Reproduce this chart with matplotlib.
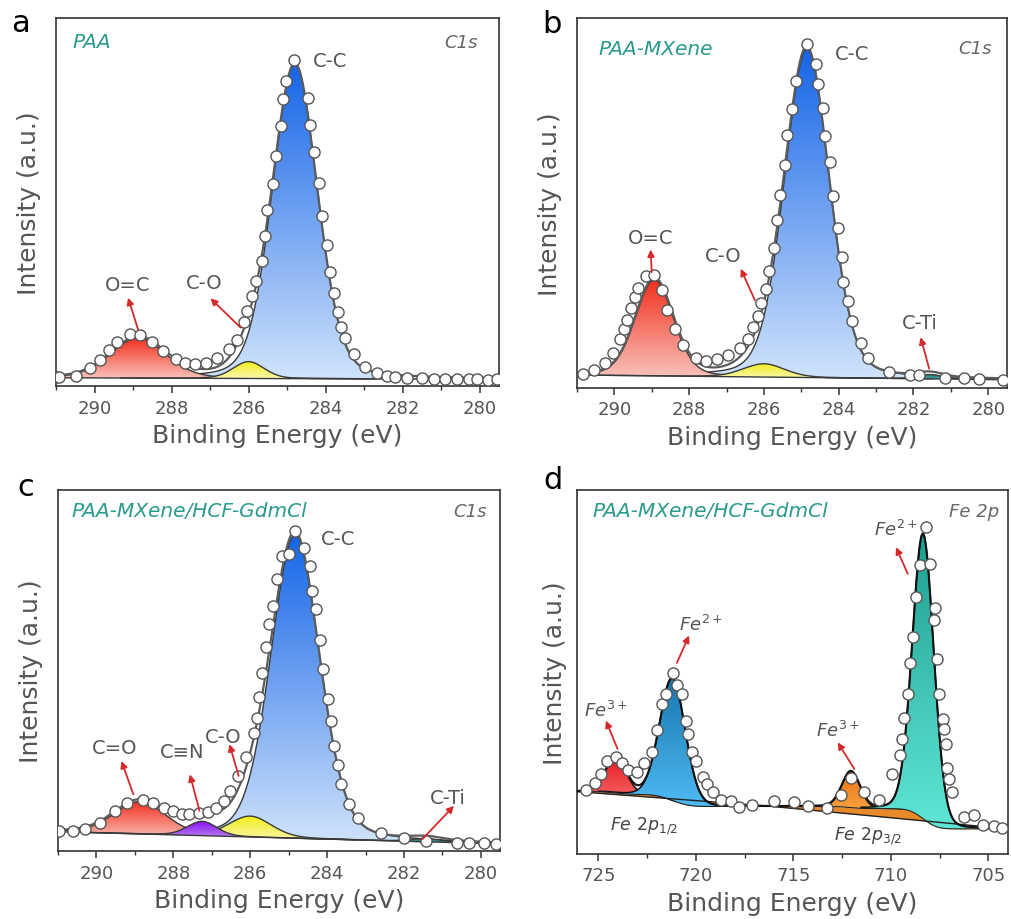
import numpy as np
import matplotlib
matplotlib.use('Agg')
import matplotlib.pyplot as plt
from matplotlib.colors import LinearSegmentedColormap
from matplotlib.patches import Polygon
from matplotlib.ticker import MultipleLocator
from math import erf

plt.rcParams['font.family'] = ['DejaVu Sans']
plt.rcParams['mathtext.fontset'] = 'dejavusans'

GRAY = '#555555'
TEAL = '#2a9a8c'
ARROW = '#d42a2a'

# ---------------- data ----------------
# panel a : PAA, C1s
a_be = [291.0, 290.91, 290.49, 290.11, 289.87, 289.63, 289.42, 289.09, 288.81, 288.50,
        288.22, 287.89, 287.66, 287.40, 287.11, 286.81, 286.50, 286.31, 286.11, 286.03,
        285.92, 285.81, 285.66, 285.57, 285.53, 285.37, 285.29, 285.16, 285.11, 285.03,
        284.82, 284.47, 284.40, 284.30, 284.18, 284.10, 283.97, 283.88, 283.79, 283.69,
        283.60, 283.49, 283.26, 282.97, 282.68, 282.40, 282.19, 281.90, 281.49, 281.19,
        280.89, 280.58, 280.28, 280.08, 279.78, 279.54]
a_int = [0.002, 0.002, 0.007, 0.031, 0.055, 0.087, 0.112, 0.137, 0.134, 0.112,
         0.084, 0.060, 0.047, 0.042, 0.047, 0.063, 0.091, 0.118, 0.175, 0.210,
         0.257, 0.305, 0.368, 0.445, 0.529, 0.610, 0.697, 0.792, 0.876, 0.935,
         1.000, 0.880, 0.795, 0.709, 0.612, 0.510, 0.417, 0.333, 0.266, 0.207,
         0.161, 0.126, 0.076, 0.034, 0.014, 0.007, 0.002, 0.0, -0.001, -0.003,
         -0.005, -0.005, -0.005, -0.005, -0.007, -0.005]
a_names = ['O=C', 'C-O', 'C-C']
a_pos = [288.87, 286.0, 284.8]
a_height = [0.126, 0.053, 0.99]
a_fwhm = [1.7, 0.95, 1.38]
a_bg = [0.0, -0.005]          # at 291 eV, at 279.5 eV

# panel b : PAA-MXene, C1s
b_be = [290.85, 290.54, 290.25, 290.04, 289.85, 289.74, 289.65, 289.55, 289.45, 289.36,
        289.15, 288.93, 288.73, 288.58, 288.38, 288.16, 287.82, 287.55, 287.25, 286.95,
        286.64, 286.42, 286.28, 286.15, 286.09, 285.94, 285.86, 285.73, 285.66, 285.57,
        285.44, 285.39, 285.26, 285.14, 284.86, 284.61, 284.55, 284.43, 284.37, 284.22,
        284.14, 284.01, 283.92, 283.88, 283.74, 283.65, 283.41, 283.21, 282.65, 282.08,
        281.84, 281.16, 280.65, 280.24, 279.60]
b_int = [0.007, 0.019, 0.040, 0.069, 0.110, 0.142, 0.170, 0.204, 0.237, 0.264,
         0.300, 0.305, 0.258, 0.198, 0.141, 0.094, 0.054, 0.045, 0.052, 0.064,
         0.085, 0.112, 0.147, 0.182, 0.220, 0.262, 0.317, 0.385, 0.471, 0.545,
         0.636, 0.726, 0.804, 0.889, 1.001, 0.941, 0.878, 0.806, 0.723, 0.643,
         0.543, 0.446, 0.358, 0.283, 0.225, 0.167, 0.099, 0.054, 0.012, 0.002,
         0.002, -0.006, -0.006, -0.008, -0.011]
b_names = ['O=C', 'C-O', 'C-C', 'C-Ti']
b_pos = [288.93, 286.0, 284.85, 281.55]
b_height = [0.29, 0.04, 0.99, 0.013]
b_fwhm = [1.2, 1.3, 1.42, 0.8]
b_bg = [0.003, -0.011]

# panel c : PAA-MXene/HCF-GdmCl, C1s
c_be = [290.97, 290.61, 290.30, 289.91, 289.52, 289.20, 288.80, 288.52, 288.24, 288.00,
        287.78, 287.58, 287.32, 287.09, 286.89, 286.68, 286.52, 286.33, 286.10, 285.91,
        285.83, 285.76, 285.70, 285.58, 285.50, 285.41, 285.30, 285.17, 285.00, 284.83,
        284.61, 284.45, 284.39, 284.28, 284.19, 284.10, 283.98, 283.91, 283.83, 283.72,
        283.63, 283.43, 283.20, 282.61, 282.00, 281.43, 280.61, 280.30, 279.91, 279.61]
c_int = [0.037, 0.037, 0.043, 0.062, 0.102, 0.128, 0.137, 0.128, 0.112, 0.102,
         0.091, 0.091, 0.096, 0.098, 0.112, 0.134, 0.166, 0.214, 0.276, 0.353,
         0.401, 0.468, 0.545, 0.629, 0.701, 0.760, 0.845, 0.920, 0.925, 1.000,
         0.947, 0.888, 0.807, 0.749, 0.652, 0.556, 0.462, 0.390, 0.310, 0.248,
         0.187, 0.123, 0.080, 0.030, 0.014, 0.005, 0.0, 0.0, -0.002, -0.005]
c_names = ['C=O', 'C≡N', 'C-O', 'C-C', 'C-Ti']
c_pos = [288.87, 287.25, 286.0, 284.83, 281.4]
c_height = [0.104, 0.046, 0.067, 0.975, 0.01]
c_fwhm = [1.6, 0.9, 1.3, 1.5, 1.0]
c_bg = [0.035, -0.004]

# panel d : PAA-MXene/HCF-GdmCl, Fe 2p
d_be = [725.65, 725.19, 724.88, 724.57, 724.11, 723.77, 723.48, 723.00, 722.66, 722.23,
        722.01, 721.72, 721.54, 721.20, 720.95, 720.69, 720.52, 720.43, 720.18, 720.00,
        719.66, 719.44, 719.15, 718.72, 718.21, 717.78, 717.15, 715.98, 714.99, 714.24,
        713.28, 712.56, 712.05, 711.36, 710.59, 709.96, 709.52, 709.45, 709.31, 709.14,
        709.00, 708.88, 708.71, 708.49, 708.20, 707.98, 707.74, 707.77, 707.63, 707.52,
        707.34, 707.26, 707.17, 707.12, 707.00, 706.88, 706.23, 705.72, 705.29, 704.73,
        704.32]
d_int = [0.132, 0.154, 0.184, 0.226, 0.240, 0.221, 0.196, 0.192, 0.221, 0.257,
         0.333, 0.419, 0.453, 0.522, 0.483, 0.453, 0.363, 0.318, 0.257, 0.229,
         0.173, 0.151, 0.123, 0.098, 0.095, 0.073, 0.080, 0.092, 0.089, 0.076,
         0.069, 0.112, 0.170, 0.123, 0.098, 0.184, 0.249, 0.302, 0.372, 0.453,
         0.557, 0.643, 0.777, 0.883, 1.011, 0.888, 0.739, 0.700, 0.570, 0.453,
         0.369, 0.335, 0.285, 0.204, 0.168, 0.123, 0.039, 0.045, 0.013, 0.011,
         0.002]
d_names = ['Fe3+ 2p1/2', 'Fe2+ 2p1/2', 'Fe3+ 2p3/2', 'Fe2+ 2p3/2']
d_pos = [724.1, 721.2, 712.05, 708.35]
d_height = [0.12, 0.41, 0.12, 0.955]
d_fwhm = [1.25, 1.55, 1.1, 1.3]
d_regions = [(726.1, 716.0), (716.0, 704.0)]   # Shirley regions (high BE, low BE)
d_region_bg = [(0.125, 0.075), (0.075, 0.0)]
d_region_peaks = [[0, 1], [2, 3]]

# ---------------- styles ----------------
C1S_TOP = {'C-C': '#1565e8', 'O=C': '#f2301e', 'C=O': '#f2301e', 'C-O': '#f2ee1a',
           'C≡N': '#8a0ff0', 'C-Ti': '#1f7d7d'}
C1S_BOT = {'C-C': '#d0e3fb', 'O=C': '#f9c3bb', 'C=O': '#f9c3bb', 'C-O': '#faf7b4',
           'C≡N': '#b98af0', 'C-Ti': '#4fa8a8'}
D_TOP = ['#e41a22', '#1777b0', '#ee7310', '#1f9e8e']
D_BOT = ['#f86a6a', '#4fbaf2', '#f8a040', '#60e6d6']
BAND = '#e88a2a'

FS_AX = 18
FS_TICK = 13
FS_LAB = 14
FS_TITLE = 14.5


def pv(x, c, h, w, eta=0.2):
    u = (x - c) / w
    return h * ((1 - eta) * np.exp(-4 * np.log(2) * u ** 2) + eta / (1 + 4 * u ** 2))


def grad_fill(ax, x, lo, hi, ctop, cbot, z, edge, lw=1.0):
    verts = np.column_stack([np.r_[x, x[::-1]], np.r_[hi, lo[::-1]]])
    poly = Polygon(verts, closed=True, fc='none', ec='none')
    ax.add_patch(poly)
    cmap = LinearSegmentedColormap.from_list('g', [cbot, ctop])
    im = ax.imshow(np.linspace(0, 1, 256).reshape(-1, 1), cmap=cmap, origin='lower',
                   aspect='auto', interpolation='bilinear', zorder=z,
                   extent=[x.min(), x.max(), lo.min(), hi.max()])
    im.set_clip_path(poly)
    ax.plot(x, hi, color=edge, lw=lw, zorder=z + 0.05)


def style_axes(ax, xlim, ylim, major, minor, ylabelpad):
    ax.set_xlim(*xlim)
    ax.set_ylim(*ylim)
    ax.xaxis.set_major_locator(MultipleLocator(major))
    ax.xaxis.set_minor_locator(MultipleLocator(minor))
    ax.set_yticks([])
    ax.tick_params(axis='x', which='major', direction='out', length=5, width=1.1,
                   color='#333333', labelsize=FS_TICK, labelcolor=GRAY, pad=4)
    ax.tick_params(axis='x', which='minor', direction='out', length=3, width=1.0,
                   color='#333333')
    for s in ax.spines.values():
        s.set_color('#333333')
        s.set_linewidth(1.2)
    ax.set_xlabel('Binding Energy (eV)', fontsize=FS_AX, color=GRAY, labelpad=5)
    ax.set_ylabel('Intensity (a.u.)', fontsize=FS_AX, color=GRAY, labelpad=ylabelpad)


def c1s_panel(ax, be, inten, names, pos, height, fwhm, bgends, ylim):
    x = np.linspace(279.5, 291.0, 1200)
    bg = np.interp(x, [279.5, 291.0], [bgends[1], bgends[0]])
    total = bg.copy()
    order = np.argsort(height)[::-1]      # big peaks behind small ones
    for rank, i in enumerate(order):
        n = names[i]
        comp = pv(x, pos[i], height[i], fwhm[i])
        total += comp
        m = comp > 0.004 * height[i]
        grad_fill(ax, x[m], bg[m], bg[m] + comp[m], C1S_TOP[n], C1S_BOT[n], 2 + rank * 0.2,
                  '#3a3a3a', 1.0)
    ax.plot(x, bg, color='#3a3a3a', lw=1.0, zorder=3)
    ax.plot(x, total, color='#5c5c5c', lw=1.6, zorder=4)
    ax.plot(be, inten, 'o', ms=8, mfc='white', mec='#555555', mew=1.0, zorder=5)
    style_axes(ax, (291.0, 279.5), ylim, 2, 1, 11)


def label(ax, txt, xy_text, xy_from, xy_to, size=FS_LAB):
    ax.text(*xy_text, txt, fontsize=size, color=GRAY, ha='center', va='center', zorder=7)
    ax.annotate('', xy=xy_to, xytext=xy_from, zorder=7,
                arrowprops=dict(arrowstyle='-|>', color=ARROW, lw=1.3,
                                mutation_scale=10, shrinkA=0, shrinkB=0))


def corner_text(ax, left, right, y):
    ax.text(left[0], y, left[1], transform=ax.transAxes, fontsize=FS_TITLE, color=TEAL,
            style='italic', ha='left', va='center')
    ax.text(right[0], y, right[1], transform=ax.transAxes, fontsize=13, color='#666666',
            style='italic', ha='right', va='center')


fig = plt.figure(figsize=(10.11, 9.2), dpi=100)
ax_a = fig.add_axes([0.0554, 0.5793, 0.4382, 0.4000])
ax_b = fig.add_axes([0.5707, 0.5772, 0.4253, 0.4021])
ax_c = fig.add_axes([0.0574, 0.0739, 0.4372, 0.3924])
ax_d = fig.add_axes([0.5707, 0.0707, 0.4263, 0.3957])

# ---- a ----
c1s_panel(ax_a, a_be, a_int, a_names, a_pos, a_height, a_fwhm, a_bg, (-0.026, 1.132))
ax_a.text(284.33, 0.998, 'C-C', fontsize=FS_LAB, color=GRAY, ha='left', va='center', zorder=7)
label(ax_a, 'O=C', (289.15, 0.294), (288.87, 0.152), (289.13, 0.252))
label(ax_a, 'C-O', (287.16, 0.299), (286.21, 0.158), (286.99, 0.25))
corner_text(ax_a, (0.038, 'PAA'), (0.953, 'C1s'), 0.936)

# ---- b ----
c1s_panel(ax_b, b_be, b_int, b_names, b_pos, b_height, b_fwhm, b_bg, (-0.036, 1.078))
ax_b.text(284.10, 0.970, 'C-C', fontsize=FS_LAB, color=GRAY, ha='left', va='center', zorder=7)
label(ax_b, 'O=C', (289.03, 0.418), (289.0, 0.313), (289.03, 0.381))
label(ax_b, 'C-O', (287.10, 0.363), (286.24, 0.228), (286.62, 0.323))
label(ax_b, 'C-Ti', (281.83, 0.162), (281.58, 0.022), (281.81, 0.117))
corner_text(ax_b, (0.049, 'PAA-MXene'), (0.965, 'C1s'), 0.918)

# ---- c ----
c1s_panel(ax_c, c_be, c_int, c_names, c_pos, c_height, c_fwhm, c_bg, (-0.027, 1.132))
ax_c.text(284.16, 0.975, 'C-C', fontsize=FS_LAB, color=GRAY, ha='left', va='center', zorder=7)
label(ax_c, 'C=O', (289.52, 0.305), (289.04, 0.155), (289.35, 0.262))
label(ax_c, 'C≡N', (287.76, 0.294), (287.32, 0.102), (287.57, 0.219))
label(ax_c, 'C-O', (286.71, 0.342), (286.30, 0.214), (286.54, 0.316))
label(ax_c, 'C-Ti', (280.87, 0.144), (281.52, 0.011), (280.70, 0.118))
corner_text(ax_c, (0.030, 'PAA-MXene/HCF-GdmCl'), (0.970, 'C1s'), 0.943)

# ---- d ----
verf = np.vectorize(erf)
x = np.linspace(704.0, 726.1, 1600)
lin = np.zeros_like(x)
upper = np.zeros_like(x)
for (xh, xl), (yh, yl), idx in zip(d_regions, d_region_bg, d_region_peaks):
    m = (x >= xl) & (x <= xh)
    areas = np.array([d_height[i] * d_fwhm[i] for i in idx])
    w = areas / areas.sum()
    step = np.zeros(m.sum())
    for wi, i in zip(w, idx):
        s = d_fwhm[i] / 2.3548
        step += wi * 0.5 * (1 + verf((x[m] - d_pos[i]) / (s * np.sqrt(2))))
    lin[m] = np.interp(x[m], [xl, xh], [yl, yh])
    upper[m] = yl + (yh - yl) * step
ax_d.fill_between(x, lin, upper, color=BAND, lw=0, zorder=2)
ax_d.plot(x, lin, color='#222222', lw=1.0, zorder=3)
ax_d.plot(x, upper, color='#222222', lw=0.8, zorder=3)
total = upper.copy()
for i in range(len(d_names)):
    comp = pv(x, d_pos[i], d_height[i], d_fwhm[i], eta=0.1)
    total += comp
    m = comp > 0.004 * d_height[i]
    grad_fill(ax_d, x[m], upper[m], upper[m] + comp[m], D_TOP[i], D_BOT[i], 2.2 + i * 0.2,
              '#111111', 1.1)
ax_d.plot(x, total, color='#111111', lw=1.5, zorder=4)
ax_d.plot(d_be, d_int, 'o', ms=8, mfc='white', mec='#555555', mew=1.0, zorder=5)
style_axes(ax_d, (726.1, 704.0), (-0.084, 1.136), 5, 2.5, 7)

fe2 = r'$\mathit{Fe}^{\mathit{2+}}$'
fe3 = r'$\mathit{Fe}^{\mathit{3+}}$'
label(ax_d, fe2, (709.74, 1.006), (709.14, 0.855), (709.74, 0.944), 13)
label(ax_d, fe2, (719.75, 0.687), (720.98, 0.556), (720.35, 0.648), 13)
label(ax_d, fe3, (724.62, 0.397), (724.02, 0.268), (724.62, 0.363), 13)
label(ax_d, fe3, (712.73, 0.333), (711.88, 0.201), (712.73, 0.290), 13)
ax_d.text(722.66, 0.011, r'$\mathit{Fe\ 2p}_{\mathit{1/2}}$', fontsize=12.5, color='#444444',
          ha='center', va='center')
ax_d.text(711.19, -0.022, r'$\mathit{Fe\ 2p}_{\mathit{3/2}}$', fontsize=12.5, color='#444444',
          ha='center', va='center')
corner_text(ax_d, (0.035, 'PAA-MXene/HCF-GdmCl'), (0.980, 'Fe 2p'), 0.943)

# panel letters
for t, px, py in [('a', 0.020, 0.975), ('b', 0.546, 0.973), ('c', 0.025, 0.470), ('d', 0.547, 0.478)]:
    fig.text(px, py, t, fontsize=22, color='black', ha='center', va='center')

fig.savefig('out.png', dpi=100)
